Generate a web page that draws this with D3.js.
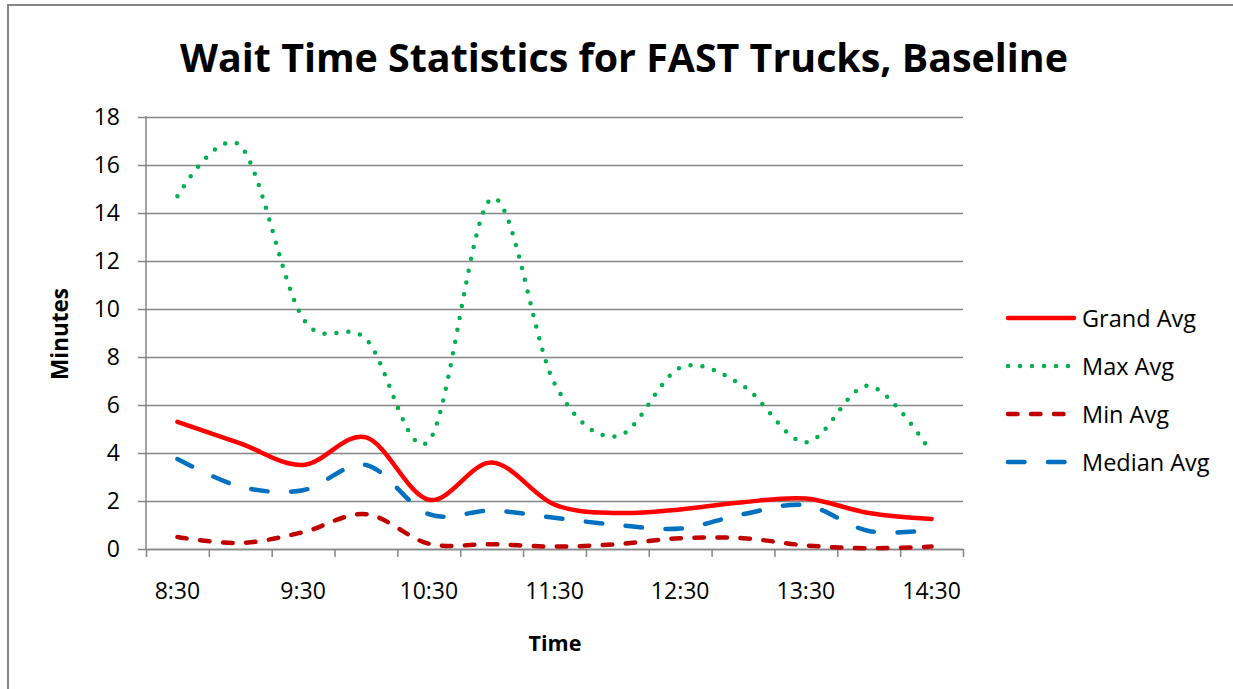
<!DOCTYPE html>
<html>
<head>
<meta charset="utf-8">
<script src="https://cdn.jsdelivr.net/npm/d3@7"></script>
<style>
	body { margin: 0; background: #fff; }
	text { font-family: "Open Sans", sans-serif; fill: #000; }
</style>
</head>
<body>
<div id="chart"></div>
<script>
// Wait time chart for FAST trucks

const FRAME_HEIGHT = 689;
const FRAME_WIDTH = 1233;
const MARGINS = {left: 146, right: 270, top: 117, bottom: 140};

const VIS_HEIGHT = FRAME_HEIGHT - MARGINS.top - MARGINS.bottom;
const VIS_WIDTH = FRAME_WIDTH - MARGINS.left - MARGINS.right;

// data, one value every half hour
const TIMES = ['8:30', '9:00', '9:30', '10:00', '10:30', '11:00', '11:30',
				'12:00', '12:30', '13:00', '13:30', '14:00', '14:30'];
const GRAND_AVG = [5.3, 4.4, 3.5, 4.65, 2.05, 3.6, 1.85, 1.5, 1.65, 1.95, 2.1, 1.5, 1.25];
const MAX_AVG = [14.7, 16.8, 9.6, 8.75, 4.5, 14.6, 6.9, 4.7, 7.55, 6.8, 4.45, 6.8, 4.0];
const MIN_AVG = [0.5, 0.25, 0.7, 1.45, 0.22, 0.2, 0.1, 0.2, 0.45, 0.45, 0.15, 0.03, 0.1];
const MEDIAN_AVG = [3.75, 2.6, 2.45, 3.5, 1.45, 1.6, 1.3, 1.0, 0.85, 1.45, 1.82, 0.75, 0.8];
const Y_TICKS = [0, 2, 4, 6, 8, 10, 12, 14, 16, 18];

const SERIES = [
	{name: 'Grand Avg', values: GRAND_AVG, color: '#ff0000', dash: null},
	{name: 'Max Avg', values: MAX_AVG, color: '#00b050', dash: '0 12'},
	{name: 'Min Avg', values: MIN_AVG, color: '#c00000', dash: '9.5 13.5'},
	{name: 'Median Avg', values: MEDIAN_AVG, color: '#0070c0', dash: '16.5 23.5'}
];

const FRAME = d3.select('#chart')
				.append('svg')
					.attr('width', FRAME_WIDTH)
					.attr('height', FRAME_HEIGHT);

// outer chart border (only left and top show)
FRAME.append('path')
		.attr('d', 'M8,' + FRAME_HEIGHT + ' L8,5 L' + FRAME_WIDTH + ',5')
		.attr('fill', 'none')
		.attr('stroke', '#868686')
		.attr('stroke-width', 2);

const xscale = d3.scaleBand()
				.domain(TIMES)
				.range([MARGINS.left, MARGINS.left + VIS_WIDTH]);

// tick marks sit on the band edges
const xedge = d3.scaleLinear()
				.domain([0, TIMES.length])
				.range([MARGINS.left, MARGINS.left + VIS_WIDTH]);

const yscale = d3.scaleLinear()
				.domain([0, 18])
				.range([MARGINS.top + VIS_HEIGHT, MARGINS.top]);

const xpos = (i) => xscale(TIMES[i]) + xscale.bandwidth() / 2;

// gridlines + y axis
const yAxis = FRAME.append('g')
		.attr('transform', 'translate(' + MARGINS.left + ',0)')
		.call(d3.axisLeft(yscale)
				.tickValues(Y_TICKS)
				.tickSize(-VIS_WIDTH)
				.tickPadding(26));
yAxis.select('.domain').remove();
yAxis.selectAll('.tick line')
		.attr('x1', -8)
		.attr('stroke', '#868686')
		.attr('stroke-width', 1.5);
yAxis.selectAll('.tick text')
		.attr('font-size', '23px')
		.attr('font-family', '"Open Sans", sans-serif');

FRAME.append('line')
		.attr('x1', MARGINS.left).attr('x2', MARGINS.left)
		.attr('y1', MARGINS.top - 1).attr('y2', MARGINS.top + VIS_HEIGHT)
		.attr('stroke', '#868686')
		.attr('stroke-width', 1.5);

// x axis: tick marks
const xTicks = FRAME.append('g')
		.attr('transform', 'translate(0,' + (MARGINS.top + VIS_HEIGHT) + ')')
		.call(d3.axisBottom(xedge)
				.tickValues(d3.range(TIMES.length + 1))
				.tickSize(8)
				.tickSizeOuter(0)
				.tickFormat(''));
xTicks.select('.domain')
		.attr('stroke', '#868686')
		.attr('stroke-width', 1.5);
xTicks.selectAll('.tick line')
		.attr('stroke', '#868686')
		.attr('stroke-width', 1.5);

// x axis: labels every hour
const xLabels = FRAME.append('g')
		.attr('transform', 'translate(0,' + (MARGINS.top + VIS_HEIGHT) + ')')
		.call(d3.axisBottom(xscale)
				.tickSize(0)
				.tickPadding(34)
				.tickFormat((d, i) => i % 2 == 0 ? d : ''));
xLabels.select('.domain').remove();
xLabels.selectAll('.tick text')
		.attr('font-size', '23px')
		.attr('font-family', '"Open Sans", sans-serif');

// series lines
const line = d3.line()
		.x((d, i) => xpos(i))
		.y((d) => yscale(d))
		.curve(d3.curveCardinal.tension(0));

FRAME.selectAll('.series')
		.data(SERIES)
		.enter()
		.append('path')
			.attr('class', 'series')
			.attr('d', (s) => line(s.values))
			.attr('fill', 'none')
			.attr('stroke', (s) => s.color)
			.attr('stroke-width', 4.5)
			.attr('stroke-linecap', 'round')
			.attr('stroke-linejoin', 'round')
			.attr('stroke-dasharray', (s) => s.dash);

// legend
const LEG_Y = [318, 366, 414, 462];
const legend = FRAME.selectAll('.legend')
		.data(SERIES)
		.enter()
		.append('g')
			.attr('class', 'legend')
			.attr('transform', (s, i) => 'translate(0,' + LEG_Y[i] + ')');

legend.append('line')
		.attr('x1', 1008).attr('x2', 1074)
		.attr('y1', 0).attr('y2', 0)
		.attr('stroke', (s) => s.color)
		.attr('stroke-width', 4.5)
		.attr('stroke-linecap', 'round')
		.attr('stroke-dasharray', (s) => s.dash);

legend.append('text')
		.attr('x', 1082)
		.attr('y', 8.5)
		.attr('font-size', '23.5px')
		.text((s) => s.name);

// titles
FRAME.append('text')
		.attr('x', 624)
		.attr('y', 72)
		.attr('text-anchor', 'middle')
		.attr('font-size', '40px')
		.attr('font-weight', 'bold')
		.attr('textLength', 888)
		.attr('lengthAdjust', 'spacingAndGlyphs')
		.text('Wait Time Statistics for FAST Trucks, Baseline');

FRAME.append('text')
		.attr('x', 555)
		.attr('y', 651)
		.attr('text-anchor', 'middle')
		.attr('font-size', '21.5px')
		.attr('font-weight', 'bold')
		.text('Time');

FRAME.append('text')
		.attr('transform', 'translate(68,334) rotate(-90)')
		.attr('text-anchor', 'middle')
		.attr('font-size', '22.5px')
		.attr('font-weight', 'bold')
		.text('Minutes');
</script>
</body>
</html>
